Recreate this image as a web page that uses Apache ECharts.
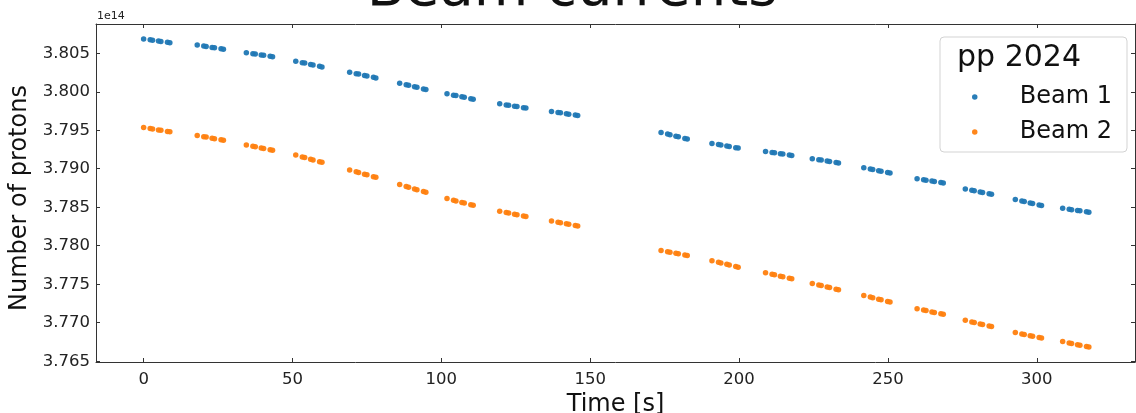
<!DOCTYPE html>
<html>
<head>
<meta charset="utf-8">
<script src="https://cdn.jsdelivr.net/npm/echarts@6/dist/echarts.min.js"></script>
<style>
html,body{margin:0;padding:0;background:#fff;}
#chart{width:1136px;height:413px;}
</style>
</head>
<body>
<div id="chart"></div>
<script>
// Time stamps [s] (shared by both beams)
const times = [
  0.0, 2.2, 3.0, 5.0, 5.8, 8.0, 8.8,
  18.0, 20.2, 21.0, 23.0, 23.8, 26.0, 26.8,
  34.5, 36.7, 37.5, 39.5, 40.3, 42.5, 43.3,
  51.1, 53.3, 54.1, 56.1, 56.9, 59.1, 59.9,
  69.2, 71.4, 72.2, 74.2, 75.0, 77.2, 78.0,
  86.0, 88.2, 89.0, 91.0, 91.8, 94.0, 94.8,
  101.9, 104.1, 104.9, 106.9, 107.7, 109.9, 110.7,
  119.6, 121.8, 122.6, 124.6, 125.4, 127.6, 128.4,
  137.0, 139.2, 140.0, 142.0, 142.8, 145.0, 145.8,
  173.8, 176.0, 176.8, 178.8, 179.6, 181.8, 182.6,
  190.9, 193.1, 193.9, 195.9, 196.7, 198.9, 199.7,
  208.9, 211.1, 211.9, 213.9, 214.7, 216.9, 217.7,
  224.6, 226.8, 227.6, 229.6, 230.4, 232.6, 233.4,
  241.9, 244.1, 244.9, 246.9, 247.7, 249.9, 250.7,
  259.8, 262.0, 262.8, 264.8, 265.6, 267.8, 268.6,
  276.0, 278.2, 279.0, 281.0, 281.8, 284.0, 284.8,
  292.8, 295.0, 295.8, 297.8, 298.6, 300.8, 301.6,
  308.7, 310.9, 311.7, 313.7, 314.5, 316.7, 317.5
];
// Number of protons, in units of 1e14
const beam1 = [
  3.80686, 3.80674, 3.80670, 3.80659, 3.80654, 3.80642, 3.80638,
  3.80608, 3.80594, 3.80589, 3.80576, 3.80571, 3.80557, 3.80552,
  3.80508, 3.80495, 3.80490, 3.80478, 3.80474, 3.80461, 3.80456,
  3.80397, 3.80378, 3.80372, 3.80355, 3.80348, 3.80330, 3.80323,
  3.80254, 3.80235, 3.80229, 3.80212, 3.80205, 3.80187, 3.80180,
  3.80111, 3.80091, 3.80083, 3.80065, 3.80058, 3.80037, 3.80030,
  3.79973, 3.79956, 3.79950, 3.79934, 3.79927, 3.79910, 3.79904,
  3.79843, 3.79829, 3.79824, 3.79812, 3.79807, 3.79793, 3.79788,
  3.79743, 3.79730, 3.79726, 3.79714, 3.79709, 3.79697, 3.79692,
  3.79471, 3.79450, 3.79442, 3.79423, 3.79415, 3.79394, 3.79386,
  3.79329, 3.79314, 3.79309, 3.79295, 3.79289, 3.79274, 3.79269,
  3.79225, 3.79212, 3.79207, 3.79195, 3.79191, 3.79178, 3.79173,
  3.79131, 3.79117, 3.79112, 3.79099, 3.79094, 3.79080, 3.79075,
  3.79014, 3.78997, 3.78991, 3.78975, 3.78968, 3.78951, 3.78945,
  3.78871, 3.78857, 3.78852, 3.78840, 3.78835, 3.78821, 3.78816,
  3.78738, 3.78721, 3.78714, 3.78698, 3.78692, 3.78674, 3.78668,
  3.78599, 3.78580, 3.78573, 3.78555, 3.78548, 3.78529, 3.78522,
  3.78487, 3.78474, 3.78469, 3.78457, 3.78453, 3.78440, 3.78435
];
const beam2 = [
  3.79536, 3.79522, 3.79517, 3.79504, 3.79499, 3.79485, 3.79480,
  3.79432, 3.79416, 3.79411, 3.79397, 3.79391, 3.79376, 3.79370,
  3.79309, 3.79292, 3.79286, 3.79270, 3.79264, 3.79247, 3.79241,
  3.79178, 3.79154, 3.79146, 3.79124, 3.79115, 3.79092, 3.79083,
  3.78984, 3.78960, 3.78951, 3.78929, 3.78921, 3.78897, 3.78888,
  3.78794, 3.78769, 3.78760, 3.78737, 3.78728, 3.78703, 3.78694,
  3.78612, 3.78590, 3.78582, 3.78562, 3.78555, 3.78533, 3.78525,
  3.78448, 3.78431, 3.78425, 3.78409, 3.78402, 3.78385, 3.78379,
  3.78321, 3.78305, 3.78299, 3.78284, 3.78278, 3.78262, 3.78256,
  3.77938, 3.77922, 3.77916, 3.77902, 3.77896, 3.77880, 3.77874,
  3.77805, 3.77784, 3.77777, 3.77758, 3.77750, 3.77729, 3.77722,
  3.77649, 3.77630, 3.77623, 3.77605, 3.77598, 3.77579, 3.77572,
  3.77511, 3.77490, 3.77483, 3.77464, 3.77457, 3.77436, 3.77429,
  3.77355, 3.77333, 3.77325, 3.77305, 3.77298, 3.77276, 3.77268,
  3.77183, 3.77165, 3.77158, 3.77141, 3.77134, 3.77116, 3.77109,
  3.77031, 3.77011, 3.77003, 3.76985, 3.76978, 3.76957, 3.76950,
  3.76872, 3.76855, 3.76848, 3.76832, 3.76826, 3.76808, 3.76802,
  3.76755, 3.76738, 3.76731, 3.76715, 3.76709, 3.76691, 3.76685
];
const seriesNames = ['Beam 1', 'Beam 2'];
const legendTitle = 'pp 2024';
const chartTitle = 'Beam currents';
const xName = 'Time [s]';
const yName = 'Number of protons';
const offsetText = '1e14';
const xStep = 50;
const yStep = 0.005;

const FONT = 'DejaVu Sans';
const spine = { show: true, onZero: false, lineStyle: { color: '#333', width: 1 } };
const tick = { show: true, inside: true, length: 4, lineStyle: { color: '#333', width: 1 } };
function isStep(v, s) { const r = v / s; return Math.abs(r - Math.round(r)) < 1e-6; }

const xCommon = { type: 'value', min: -16, max: 333, minInterval: xStep, maxInterval: xStep,
  axisLine: spine, axisTick: tick, splitLine: { show: false } };
const yCommon = { type: 'value', min: 3.7649, max: 3.8088, minInterval: yStep, maxInterval: yStep,
  axisLine: spine, axisTick: tick, splitLine: { show: false } };

const chart = echarts.init(document.getElementById('chart'), null, { renderer: 'canvas' });
chart.setOption({
  animation: false,
  backgroundColor: '#fff',
  grid: { left: 96, right: 1, top: 24, bottom: 51, outerBoundsMode: 'none', containLabel: false },
  xAxis: [
    Object.assign({}, xCommon, {
      position: 'bottom',
      name: xName, nameLocation: 'middle', nameGap: 23,
      nameTextStyle: { fontFamily: FONT, fontSize: 24, color: '#111' },
      axisLabel: { show: true, margin: 9, fontFamily: FONT, fontSize: 16.5, color: '#222',
        formatter: v => isStep(v, xStep) ? String(Math.round(v)) : '' }
    }),
    Object.assign({}, xCommon, { position: 'top', axisLabel: { show: false } })
  ],
  yAxis: [
    Object.assign({}, yCommon, {
      position: 'left',
      name: yName, nameLocation: 'middle', nameGap: 55,
      nameTextStyle: { fontFamily: FONT, fontSize: 24, color: '#111', padding: [0, 10, 0, 0] },
      axisLabel: { show: true, margin: 6, fontFamily: FONT, fontSize: 16.5, color: '#222',
        formatter: v => isStep(v, yStep) ? v.toFixed(3) : '' }
    }),
    Object.assign({}, yCommon, { position: 'right', axisLabel: { show: false } })
  ],
  legend: {
    data: seriesNames,
    orient: 'vertical',
    left: 972, top: 85,
    padding: 0,
    itemGap: 11,
    itemWidth: 80, itemHeight: 5.5,
    icon: 'circle',
    textStyle: { fontFamily: FONT, fontSize: 24, color: '#111' },
    z: 10
  },
  graphic: [
    { type: 'rect', z: 9, shape: { x: 940, y: 37, width: 187, height: 115, r: 4 },
      style: { fill: 'rgba(255,255,255,0.85)', stroke: '#d3d3d3', lineWidth: 1 } },
    { type: 'text', z: 11, x: 1019, y: 58,
      style: { text: legendTitle, font: '30px "DejaVu Sans"', fill: '#111', align: 'center', verticalAlign: 'middle' } },
    { type: 'text', z: 11, x: 572, y: -10,
      style: { text: chartTitle, font: '56px "DejaVu Sans"', fill: '#111', align: 'center', verticalAlign: 'middle' } },
    { type: 'text', z: 11, x: 97, y: 16,
      style: { text: offsetText, font: '11px "DejaVu Sans"', fill: '#222', align: 'left', verticalAlign: 'middle' } }
  ],
  series: [
    { name: seriesNames[0], type: 'scatter', symbol: 'circle', symbolSize: 5.5,
      itemStyle: { color: '#1f77b4', opacity: 0.95 },
      data: times.map((t, i) => [t, beam1[i]]) },
    { name: seriesNames[1], type: 'scatter', symbol: 'circle', symbolSize: 5.5,
      itemStyle: { color: '#ff7f0e', opacity: 0.95 },
      data: times.map((t, i) => [t, beam2[i]]) }
  ]
});
</script>
</body>
</html>
